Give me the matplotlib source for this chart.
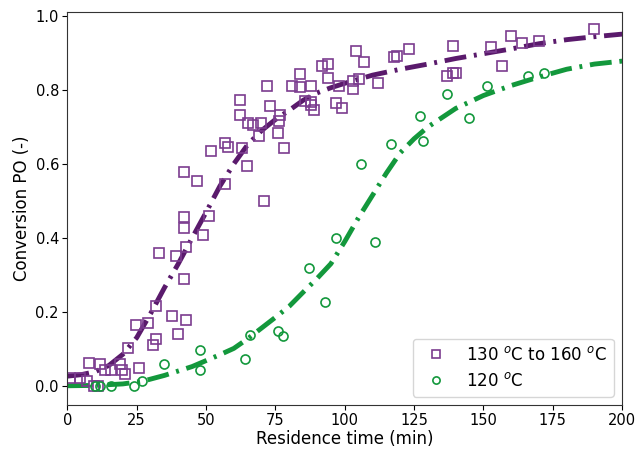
import matplotlib
matplotlib.use('Agg')
import matplotlib.pyplot as plt

# 130-160 C data (squares)
x_hot = [1.1, 4.6, 7.0, 7.9, 9.7, 10.9, 11.8, 13.6, 15.9, 19.0, 19.7, 20.8, 21.9, 25.7,
         24.8, 28.9, 31.0, 32.0, 32.0, 32.9, 37.9, 39.0, 39.8, 42.8, 42.0, 42.8, 42.0,
         42.0, 48.8, 51.0, 41.9, 46.8, 51.9, 56.9, 58.0, 63.0, 64.9, 56.9, 62.3, 62.3,
         65.0, 66.9, 69.9, 70.9, 72.0, 72.9, 75.9, 76.8, 76.2, 78.0, 69.0, 81.0, 84.0,
         84.0, 88.0, 85.8, 87.7, 88.0, 88.9, 91.8, 93.9, 93.9, 96.9, 98.9, 97.9, 102.9,
         102.9, 105.0, 104.0, 107.0, 112.0, 117.8, 119.0, 123.1, 138.9, 137.0, 138.9,
         140.0, 152.9, 156.8, 159.9, 164.0, 170.0, 190.0]
y_hot = [0.022, 0.022, 0.014, 0.062, 0.0, 0.0, 0.058, 0.044, 0.044, 0.058, 0.044, 0.032,
         0.103, 0.049, 0.165, 0.170, 0.111, 0.127, 0.217, 0.359, 0.189, 0.351, 0.141,
         0.177, 0.288, 0.375, 0.428, 0.457, 0.408, 0.458, 0.578, 0.555, 0.636, 0.656,
         0.645, 0.643, 0.594, 0.545, 0.773, 0.733, 0.710, 0.704, 0.710, 0.500, 0.812,
         0.757, 0.683, 0.733, 0.715, 0.642, 0.675, 0.812, 0.843, 0.809, 0.812, 0.771,
         0.767, 0.758, 0.747, 0.866, 0.869, 0.833, 0.765, 0.750, 0.810, 0.823, 0.802,
         0.830, 0.905, 0.875, 0.820, 0.888, 0.893, 0.912, 0.919, 0.837, 0.846, 0.846,
         0.915, 0.866, 0.947, 0.927, 0.933, 0.966]

# 120 C data (circles)
x_120 = [10.1, 11.6, 15.8, 24.0, 26.8, 35.0, 48.0, 48.0, 64.1, 65.7, 75.9, 77.7, 87.0,
         93.0, 97.0, 110.8, 106.0, 116.8, 127.1, 128.1, 137.0, 144.9, 151.1, 165.9, 171.9]
y_120 = [0.0, 0.0, 0.0, 0.0, 0.014, 0.058, 0.098, 0.042, 0.073, 0.136, 0.148, 0.134,
         0.319, 0.226, 0.400, 0.388, 0.601, 0.654, 0.729, 0.661, 0.789, 0.723, 0.810,
         0.839, 0.845]

# model curves
xm_hot = [0, 5, 10, 15, 20, 25, 30, 35, 40, 45, 50, 55, 60, 65, 70, 75, 80, 85, 90,
          95, 100, 110, 120, 130, 140, 150, 160, 170, 180, 190, 200]
ym_hot = [0.026, 0.030, 0.038, 0.055, 0.085, 0.130, 0.195, 0.265, 0.330, 0.400, 0.469,
          0.540, 0.600, 0.652, 0.690, 0.720, 0.745, 0.772, 0.792, 0.806, 0.818, 0.840,
          0.856, 0.870, 0.885, 0.898, 0.911, 0.925, 0.936, 0.944, 0.951]
xm_120 = [0, 10, 20, 27, 35, 40, 45, 50, 55, 60, 65, 70, 75, 80, 85, 90, 95, 100, 105,
          110, 115, 120, 125, 130, 140, 150, 160, 170, 180, 190, 200]
ym_120 = [0.0, 0.001, 0.005, 0.012, 0.028, 0.040, 0.052, 0.068, 0.084, 0.101, 0.127,
          0.156, 0.185, 0.215, 0.253, 0.290, 0.330, 0.390, 0.455, 0.515, 0.575, 0.630,
          0.668, 0.700, 0.750, 0.785, 0.812, 0.835, 0.856, 0.870, 0.878]

purple_line = '#5a1a6c'
purple_mk = '#7b3c8f'
green = '#13983c'

fig = plt.figure(figsize=(6.37, 4.49), dpi=100)
ax = fig.add_axes([0.1057, 0.098, 0.871, 0.8746])

ax.plot(xm_hot, ym_hot, color=purple_line, lw=3.5, dashes=(4.5, 1.6, 0.6, 1.6))
ax.plot(xm_120, ym_120, color=green, lw=3.5, dashes=(4.5, 1.6, 0.6, 1.6))

ax.plot(x_hot, y_hot, 's', mfc='none', mec=purple_mk, ms=7, mew=1.2,
        label='130 $^o$C to 160 $^o$C')
ax.plot(x_120, y_120, 'o', mfc='none', mec=green, ms=6.5, mew=1.2,
        label='120 $^o$C')

ax.set_xlim(0, 200)
ax.set_ylim(-0.052, 1.01)
ax.set_xticks([0, 25, 50, 75, 100, 125, 150, 175, 200])
ax.set_yticks([0.0, 0.2, 0.4, 0.6, 0.8, 1.0])
ax.tick_params(labelsize=10.5, pad=2.5)
for s in ax.spines.values():
    s.set_color('#333333')
ax.set_xlabel('Residence time (min)', fontsize=12, labelpad=1)
ax.set_ylabel('Conversion PO (-)', fontsize=12, labelpad=3)
ax.legend(loc='lower right', fontsize=12, numpoints=1, markerscale=0.8)

fig.savefig('out.png', dpi=100)
